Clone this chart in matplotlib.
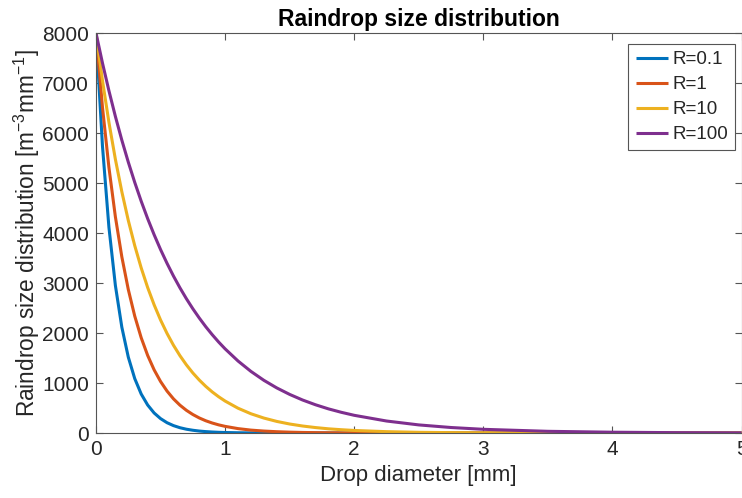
import matplotlib.pyplot as plt

plt.rcParams['font.family'] = ['Liberation Sans', 'DejaVu Sans']
plt.rcParams['mathtext.fontset'] = 'custom'
plt.rcParams['mathtext.rm'] = 'Liberation Sans'
plt.rcParams['mathtext.default'] = 'regular'

# drop diameter [mm]
diam = [0, 0.05, 0.1, 0.15, 0.2, 0.25, 0.3, 0.35, 0.4, 0.45, 0.5,
        0.55, 0.6, 0.65, 0.7, 0.75, 0.8, 0.85, 0.9, 0.95, 1.0,
        1.1, 1.2, 1.3, 1.4, 1.5, 1.6, 1.7, 1.8, 1.9, 2.0,
        2.25, 2.5, 2.75, 3.0, 3.5, 4.0, 4.5, 5.0]

# number density [m^-3 mm^-1] for each rain rate
n_r01 = [8000, 5738, 4114, 2951, 2116, 1518, 1088, 780, 560, 401, 288,
         206, 148, 106, 76, 55, 39, 28, 20, 14, 10,
         5.3, 2.7, 1.4, 0.7, 0.4, 0.2, 0.1, 0.05, 0.03, 0.01,
         0, 0, 0, 0, 0, 0, 0, 0]
n_r1 = [8000, 6517, 5310, 4325, 3523, 2870, 2338, 1905, 1552, 1264, 1030,
        839, 683, 557, 454, 370, 301, 245, 200, 163, 133,
        88, 58, 39, 26, 17, 11, 7.5, 5, 3.3, 2.2,
        0.8, 0.3, 0.1, 0, 0, 0, 0, 0]
n_r10 = [8000, 7050, 6213, 5475, 4825, 4252, 3747, 3302, 2910, 2565, 2260,
         1992, 1755, 1547, 1363, 1201, 1059, 933, 822, 725, 639,
         496, 385, 299, 232, 180, 140, 109, 84, 66, 51,
         27, 14, 7.7, 4.1, 1.2, 0.3, 0.1, 0]
n_r100 = [8000, 7400, 6845, 6332, 5857, 5418, 5012, 4636, 4288, 3967, 3669,
          3394, 3139, 2904, 2686, 2485, 2299, 2126, 1967, 1819, 1683,
          1440, 1232, 1054, 902, 772, 660, 565, 483, 414, 354,
          240, 162, 110, 74, 34, 16, 7, 3]

labels = ['R=0.1', 'R=1', 'R=10', 'R=100']
colors = ['#0072BD', '#D95319', '#EDB120', '#7E2F8E']

fig = plt.figure(figsize=(7.42, 4.98), dpi=100)
# right edge sits just past the canvas, like the original export
ax = fig.add_axes([0.1294, 0.1305, 0.8700, 0.8032])

for n, lab, c in zip([n_r01, n_r1, n_r10, n_r100], labels, colors):
    ax.plot(diam, n, color=c, lw=2.2, label=lab, solid_capstyle='butt')

ax.set_xlim(0, 5)
ax.set_ylim(0, 8000)
ax.set_xticks([0, 1, 2, 3, 4, 5])
ax.set_yticks(range(0, 8001, 1000))

txt = '#262626'
for s in ax.spines.values():
    s.set_color('#555555')
    s.set_linewidth(0.8)
ax.tick_params(direction='in', length=5, width=0.8, color='#555555',
               labelsize=15, labelcolor=txt, top=True, right=True, pad=5)

ax.set_xlabel('Drop diameter [mm]', fontsize=16, color=txt, labelpad=4)
ax.set_ylabel('Raindrop size distribution [m$^{-3}$mm$^{-1}$]',
              fontsize=16.3, color=txt, labelpad=0)
ax.set_title('Raindrop size distribution', fontsize=16.5, fontweight='bold',
             color='black', pad=5)

leg = ax.legend(loc='upper right', bbox_to_anchor=(735 / 742, 1 - 44 / 498),
                bbox_transform=fig.transFigure, borderaxespad=0,
                fontsize=13.5, handlelength=1.75, handletextpad=0.2,
                labelspacing=0.42, fancybox=False, framealpha=1,
                borderpad=0.38)
leg.get_frame().set_edgecolor('#555555')
leg.get_frame().set_linewidth(0.8)
for t in leg.get_texts():
    t.set_color(txt)

fig.savefig('out.png', dpi=100)
